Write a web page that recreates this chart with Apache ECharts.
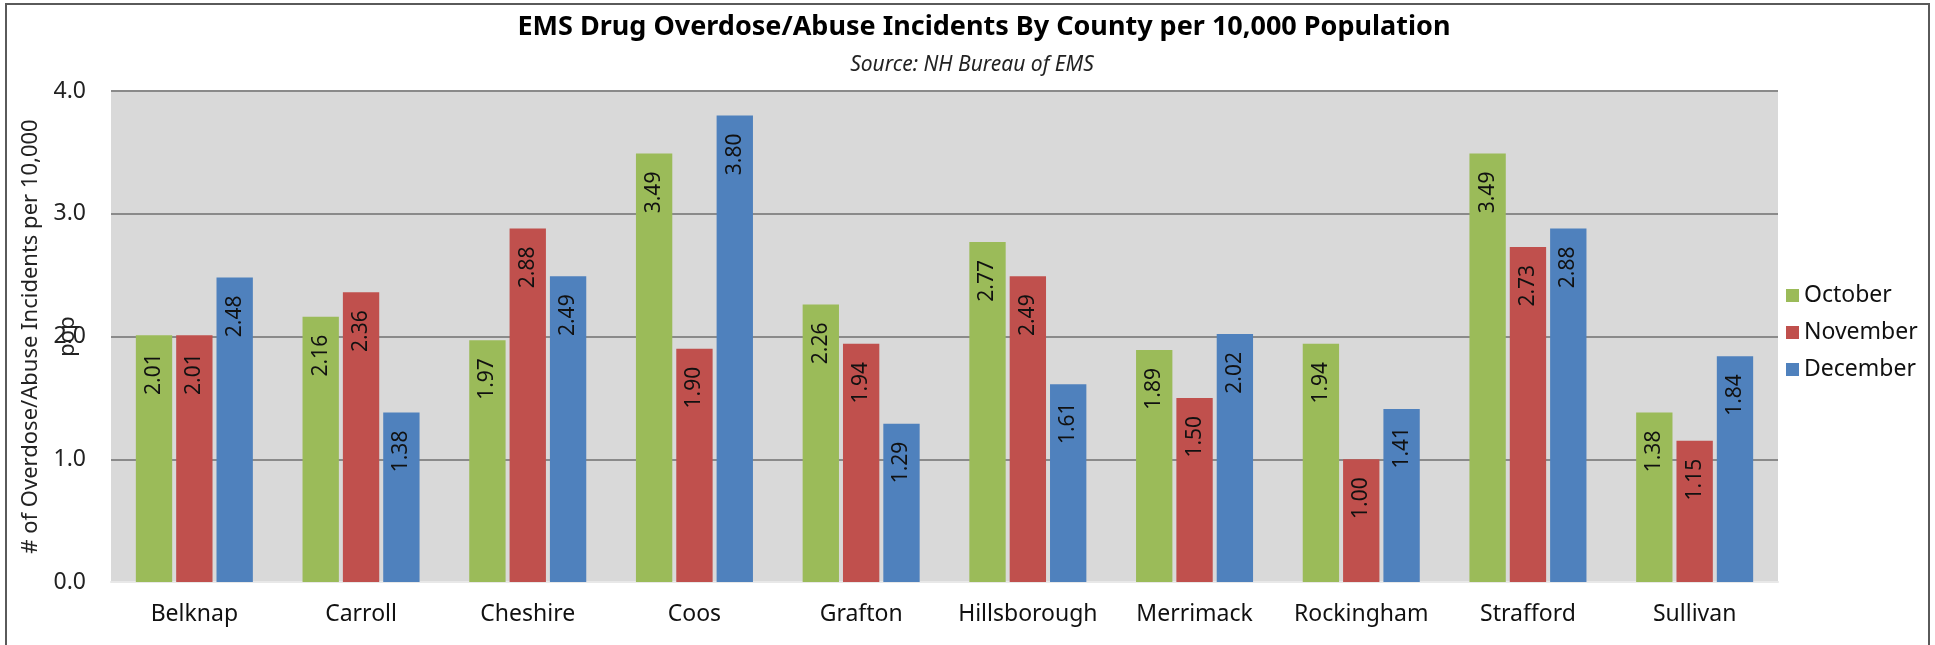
<!DOCTYPE html>
<html>
<head>
<meta charset="utf-8">
<script src="https://cdn.jsdelivr.net/npm/echarts@6/dist/echarts.min.js"></script>
<style>
  html, body { margin: 0; padding: 0; background: #fff; }
  #chart { width: 1935px; height: 645px; }
</style>
</head>
<body>
<div id="chart"></div>
<script>
// counties on the x axis
var counties = ['Belknap', 'Carroll', 'Cheshire', 'Coos', 'Grafton', 'Hillsborough', 'Merrimack', 'Rockingham', 'Strafford', 'Sullivan']
// incidents per 10,000 population, by month
var october = [2.01, 2.16, 1.97, 3.49, 2.26, 2.77, 1.89, 1.94, 3.49, 1.38]
var november = [2.01, 2.36, 2.88, 1.90, 1.94, 2.49, 1.50, 1.00, 2.73, 1.15]
var december = [2.48, 1.38, 2.49, 3.80, 1.29, 1.61, 2.02, 1.41, 2.88, 1.84]
var yTicks = [0, 1, 2, 3, 4]

var font = 'Noto Sans'
var chart = echarts.init(document.getElementById('chart'))

// label inside the top of each bar, rotated
function barLabel () {
    return {
        show: true,
        position: 'insideTop',
        rotate: 90,
        align: 'right',
        verticalAlign: 'middle',
        distance: 18,
        fontFamily: font,
        fontSize: 21,
        color: '#111',
        formatter: function (p) { return p.value.toFixed(2) }
    }
}

function makeSeries (name, data, color) {
    return {
        name: name,
        type: 'bar',
        data: data,
        barWidth: '21.8%',
        barGap: '11%',
        itemStyle: { color: color },
        label: barLabel()
    }
}

chart.setOption({
    animation: false,
    textStyle: { fontFamily: font },
    graphic: [
        // outer frame
        { type: 'rect', shape: { x: 6, y: 4, width: 1923, height: 700 },
          style: { fill: 'none', stroke: '#5a5a5a', lineWidth: 2 }, silent: true },
        { type: 'text', x: 984, y: 27,
          style: { text: 'EMS Drug Overdose/Abuse Incidents By County per 10,000 Population',
                   font: 'bold 27px "Noto Sans"', fill: '#000', textAlign: 'center', textVerticalAlign: 'middle' } },
        { type: 'text', x: 972, y: 65,
          style: { text: 'Source: NH Bureau of EMS',
                   font: 'italic 21px "Noto Sans"', fill: '#222', textAlign: 'center', textVerticalAlign: 'middle' } }
    ],
    grid: {
        left: 111, right: 157, top: 91, bottom: 63,
        outerBoundsMode: 'none',
        show: true, backgroundColor: '#d9d9d9', borderWidth: 0
    },
    legend: {
        orient: 'vertical',
        left: 1786, top: 284,
        padding: 0,
        icon: 'rect', itemWidth: 13, itemHeight: 13,
        itemGap: 14, itemTextGap: 6,
        textStyle: { fontFamily: font, fontSize: 23, color: '#111' },
        data: ['October', 'November', 'December']
    },
    xAxis: {
        type: 'category',
        data: counties,
        axisLine: { show: true, lineStyle: { color: '#e8e8e8', width: 2 } },
        axisTick: { show: false },
        axisLabel: { interval: 0, fontFamily: font, fontSize: 23, color: '#111', margin: 21 }
    },
    yAxis: {
        type: 'value',
        min: yTicks[0], max: yTicks[yTicks.length - 1], interval: 1,
        name: '# of Overdose/Abuse Incidents per 10,000\npop',
        nameLocation: 'middle',
        nameRotate: 90,
        nameGap: 25,
        nameMoveOverlap: false,
        nameTextStyle: { fontFamily: font, fontSize: 22, color: '#222', lineHeight: 37 },
        axisLine: { show: false },
        axisTick: { show: false },
        axisLabel: { fontFamily: font, fontSize: 23, color: '#222', margin: 25,
                     formatter: function (v) { return v.toFixed(1) } },
        splitLine: { lineStyle: { color: '#8a8a8a', width: 2 } }
    },
    series: [
        makeSeries('October', october, '#9bbb59'),
        makeSeries('November', november, '#c0504d'),
        makeSeries('December', december, '#4f81bd')
    ]
})
</script>
</body>
</html>
